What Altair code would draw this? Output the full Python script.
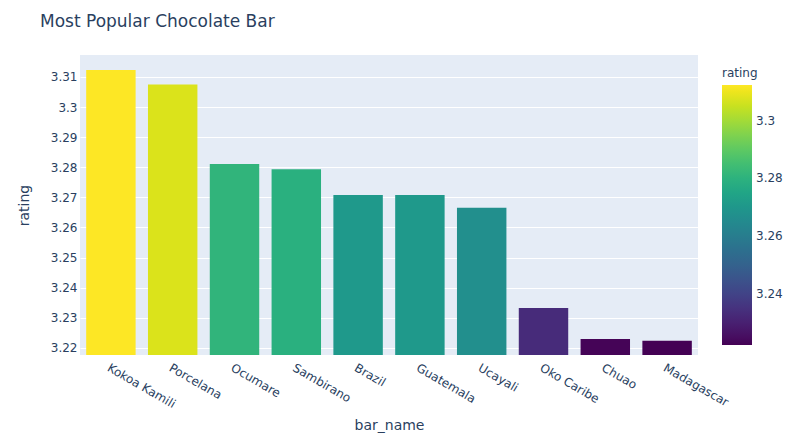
import altair as alt
import pandas as pd

bar_names = ["Kokoa Kamili", "Porcelana", "Ocumare", "Sambirano", "Brazil",
             "Guatemala", "Ucayali", "Oko Caribe", "Chuao", "Madagascar"]
ratings = [3.3123, 3.3075, 3.2811, 3.2793, 3.2708,
           3.2708, 3.2665, 3.2332, 3.2229, 3.2223]
y_ticks = [3.22, 3.23, 3.24, 3.25, 3.26, 3.27, 3.28, 3.29, 3.30, 3.31]
legend_ticks = [3.24, 3.26, 3.28, 3.30]
y_domain = [3.2176, 3.3173]

df = pd.DataFrame({"bar_name": bar_names, "rating": ratings})

TXT = "#2a3f5f"
FONT = "DejaVu Sans"

chart = alt.Chart(df).mark_bar(clip=True).encode(
    x=alt.X(
        "bar_name:N", sort=bar_names, title="bar_name",
        scale=alt.Scale(paddingInner=0.2, paddingOuter=0.1),
        axis=alt.Axis(labelAngle=30, labelAlign="left", labelBaseline="top",
                      ticks=False, domain=False, labelPadding=7, grid=False,
                      titleY=63, titleBaseline="top"),
    ),
    y=alt.Y(
        "rating:Q", title="rating",
        scale=alt.Scale(domain=y_domain, zero=False, nice=False),
        axis=alt.Axis(values=y_ticks, format=".2~f", ticks=False, domain=False,
                      labelPadding=3, gridColor="white", gridWidth=1,
                      titleX=-52, titleBaseline="alphabetic"),
    ),
    color=alt.Color(
        "rating:Q", scale=alt.Scale(scheme="viridis"),
        legend=alt.Legend(orient="none", legendX=642, legendY=13,
                          gradientLength=260, gradientThickness=30,
                          values=legend_ticks, format=".2~f", padding=0,
                          titlePadding=5, labelOffset=4, labelOverlap=False,
                          gradientStrokeWidth=0, title="rating"),
    ),
).properties(
    width=618, height=300,
    title=alt.TitleParams("Most Popular Chocolate Bar", anchor="start",
                          frame="group", dx=-40, offset=11,
                          baseline="alphabetic"),
    autosize="none",
    padding={"left": 72, "top": 47, "right": 94, "bottom": 80},
).configure(
    font=FONT, background="white",
).configure_view(
    fill="#e5ecf6", strokeWidth=0,
).configure_axis(
    labelFont=FONT, labelFontSize=12, labelColor=TXT,
    titleFont=FONT, titleFontSize=14, titleColor=TXT, titleFontWeight="normal",
).configure_legend(
    labelFont=FONT, labelFontSize=12, labelColor=TXT,
    titleFont=FONT, titleFontSize=12, titleColor=TXT, titleFontWeight="normal",
).configure_title(
    font=FONT, fontSize=17, color=TXT, fontWeight="normal",
)

chart.save("out.html", embed_options={"renderer": "svg", "actions": False})
